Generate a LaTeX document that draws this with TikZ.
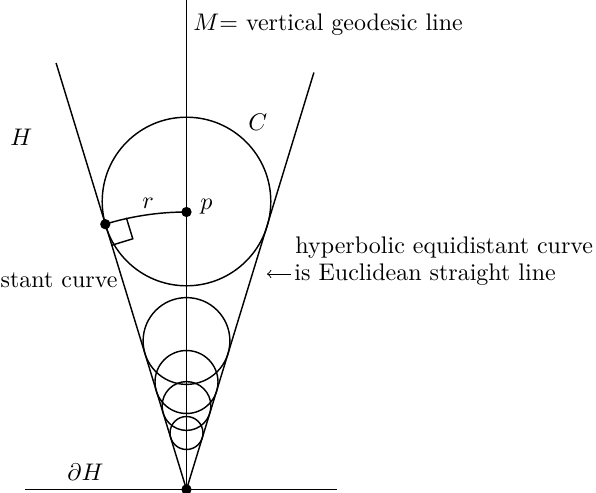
\documentclass[tikz,border=0pt]{standalone}
\usetikzlibrary{calc}
\begin{document}
\begin{tikzpicture}[x=0.41667pt,y=0.41667pt,
  geo/.style={line width=0.6pt},
  lbl/.style={inner sep=0pt},
  dotn/.style={circle,fill,inner sep=0pt,minimum size=4.3pt}]
\useasboundingbox (0,0) rectangle (596,492);
% key points
\coordinate (A) at (186.5,2.5);
\coordinate (Mtop) at (186.5,492);
\coordinate (L) at (56.1,429);
\coordinate (R) at (313.9,419.5);
\coordinate (B1) at (25,2.5);
\coordinate (B2) at (337,2.5);
\coordinate (p) at (186.5,280);
\coordinate (q) at (105.3,267.8);
% lines
\draw[geo] (B1) -- (B2);
\draw[geo] (A) -- (Mtop);
\draw[geo] (A) -- (L);
\draw[geo] (A) -- (R);
% circles
\draw[geo] (186.5,290.5) circle[radius=84.3];
\draw[geo] (186.5,151) circle[radius=43.4];
\draw[geo] (186.5,110) circle[radius=31.5];
\draw[geo] (186.5,86) circle[radius=24.4];
\draw[geo] (186.5,59) circle[radius=16.5];
% geodesic arc from p to q
\draw[geo] (p) arc[start angle=90,end angle=107.01,radius=277.5];
% right angle mark
\draw[geo] ($(q)+(21.04,6.44)$) -- ++(6.44,-21.04) -- ++(-21.04,-6.44);
% dots
\node[dotn] (pd) at (p) {};
\node[dotn] (qd) at (q) {};
\node[dotn] (ad) at (A) {};
% labels
\node[lbl,anchor=base west] (mlab) at (193,462) {$M{=}$ vertical geodesic line};
\node[lbl,anchor=base west] (hlab) at (10,347) {$H$};
\node[lbl,anchor=base west] (clab) at (248,362) {$C$};
\node[lbl,anchor=base west] (rlab) at (142,284) {$r$};
\node[lbl,anchor=base west] (plab) at (200,283) {$p$};
\node[lbl,anchor=base west] (dhlab) at (67,12) {$\partial H$};
\node[lbl,anchor=base east] (eqlab) at (118,205) {stant curve};
\node[lbl,anchor=base west] (l1) at (295,239) {hyperbolic equidistant curve};
\node[lbl,anchor=base west] (l2) at (294,212) {is Euclidean straight line};
\coordinate (tip) at (267,218);
\draw[line width=0.4pt,->] ($(l2.base west)+(-3,6)$) -- (tip);
\end{tikzpicture}
\end{document}
